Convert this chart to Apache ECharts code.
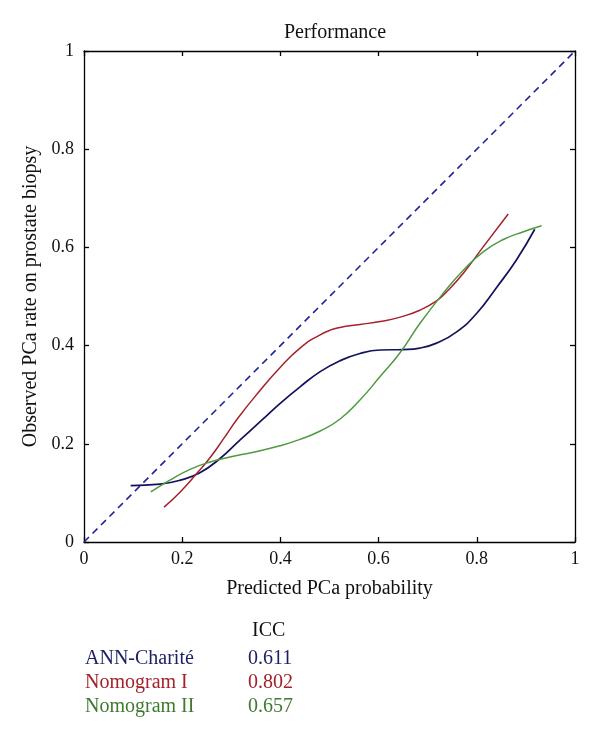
<!DOCTYPE html>
<html>
<head>
<meta charset="utf-8">
<script src="https://cdn.jsdelivr.net/npm/echarts@6/dist/echarts.min.js"></script>
<style>html,body{margin:0;padding:0;background:#fff}#c{width:600px;height:740px}</style>
</head>
<body>
<div id="c"></div>
<script>
var tickValues = [0, 0.2, 0.4, 0.6, 0.8, 1];
var refX = [0, 1];
var refY = [0, 1];
var annX = [0.095,0.155,0.196,0.236,0.277,0.318,0.362,0.399,0.440,0.481,0.521,0.562,0.603,0.650,0.684,0.718,0.759,0.800,0.840,0.881,0.918];
var annY = [0.115,0.118,0.126,0.141,0.170,0.208,0.248,0.282,0.316,0.347,0.369,0.384,0.391,0.392,0.395,0.405,0.428,0.466,0.518,0.575,0.637];
var nomIX = [0.163,0.196,0.230,0.257,0.284,0.314,0.358,0.399,0.440,0.481,0.521,0.562,0.603,0.644,0.684,0.718,0.739,0.773,0.813,0.864];
var nomIY = [0.071,0.102,0.140,0.172,0.210,0.253,0.308,0.355,0.395,0.422,0.437,0.443,0.449,0.458,0.472,0.491,0.510,0.548,0.601,0.668];
var nomIIX = [0.136,0.175,0.216,0.257,0.297,0.345,0.399,0.440,0.481,0.521,0.562,0.603,0.644,0.684,0.732,0.773,0.813,0.854,0.895,0.932];
var nomIIY = [0.102,0.126,0.148,0.163,0.173,0.183,0.196,0.209,0.226,0.250,0.289,0.337,0.386,0.445,0.507,0.554,0.591,0.616,0.632,0.644];
var legendNames = ['ANN-Charité', 'Nomogram I', 'Nomogram II'];
var iccValues = ['0.611', '0.802', '0.657'];
var iccHeader = 'ICC';

function pairs(xs, ys) { return xs.map(function (x, i) { return [x, ys[i]]; }); }

var FONT = '"Liberation Serif", "DejaVu Serif", serif';
var lineCols = ['#12135a', '#a3222b', '#4f9a40'];
var textCols = ['#1e1f62', '#a3222b', '#3f7a30'];

function axisBase(show) {
  return {
    type: 'value', min: 0, max: 1, interval: 0.2,
    axisLine: { show: true, onZero: false, lineStyle: { color: '#000', width: 1.3 } },
    axisTick: { show: true, inside: true, length: 5, lineStyle: { color: '#000', width: 1.3 } },
    axisLabel: { show: show, color: '#111', fontFamily: FONT, fontSize: 18, margin: 8,
      formatter: function (v) { return String(+v.toFixed(1)); } },
    splitLine: { show: false }
  };
}

var chart = echarts.init(document.getElementById('c'), null, { renderer: 'canvas' });
var xBottom = Object.assign(axisBase(true), { position: 'bottom',
  name: 'Predicted PCa probability', nameLocation: 'middle', nameGap: 37,
  nameTextStyle: { color: '#111', fontFamily: FONT, fontSize: 20 } });
var xTop = Object.assign(axisBase(false), { position: 'top' });
var yLeft = Object.assign(axisBase(true), { position: 'left',
  name: 'Observed PCa rate on prostate biopsy', nameLocation: 'middle', nameGap: 34,
  nameTextStyle: { color: '#111', fontFamily: FONT, fontSize: 20 } });
yLeft.axisLabel.margin = 10;
var yRight = Object.assign(axisBase(false), { position: 'right' });

var graphics = [];
graphics.push({ type: 'text', left: 252, top: 621, style: { text: iccHeader, fill: '#111', font: '20px ' + FONT } });
legendNames.forEach(function (n, i) {
  graphics.push({ type: 'text', left: 85, top: 649 + i * 24, style: { text: n, fill: textCols[i], font: '20px ' + FONT } });
  graphics.push({ type: 'text', left: 248, top: 649 + i * 24, style: { text: iccValues[i], fill: textCols[i], font: '20px ' + FONT } });
});

chart.setOption({
  animation: false,
  backgroundColor: '#fff',
  title: { text: 'Performance', left: 330, textAlign: 'center', top: 18,
    textStyle: { fontFamily: FONT, fontSize: 20, fontWeight: 'normal', color: '#111' } },
  grid: { left: 84, top: 51, width: 491, height: 491 },
  xAxis: [xBottom, xTop],
  yAxis: [yLeft, yRight],
  series: [
    { type: 'line', data: pairs(refX, refY), showSymbol: false, symbol: 'none',
      lineStyle: { color: '#2222a0', width: 1.6, type: [7, 5] } },
    { type: 'line', name: legendNames[0], data: pairs(annX, annY), symbol: 'none', smooth: true,
      lineStyle: { color: lineCols[0], width: 1.7 } },
    { type: 'line', name: legendNames[1], data: pairs(nomIX, nomIY), symbol: 'none', smooth: true,
      lineStyle: { color: lineCols[1], width: 1.5 } },
    { type: 'line', name: legendNames[2], data: pairs(nomIIX, nomIIY), symbol: 'none', smooth: true,
      lineStyle: { color: lineCols[2], width: 1.5 } }
  ],
  graphic: graphics
});
</script>
</body>
</html>
